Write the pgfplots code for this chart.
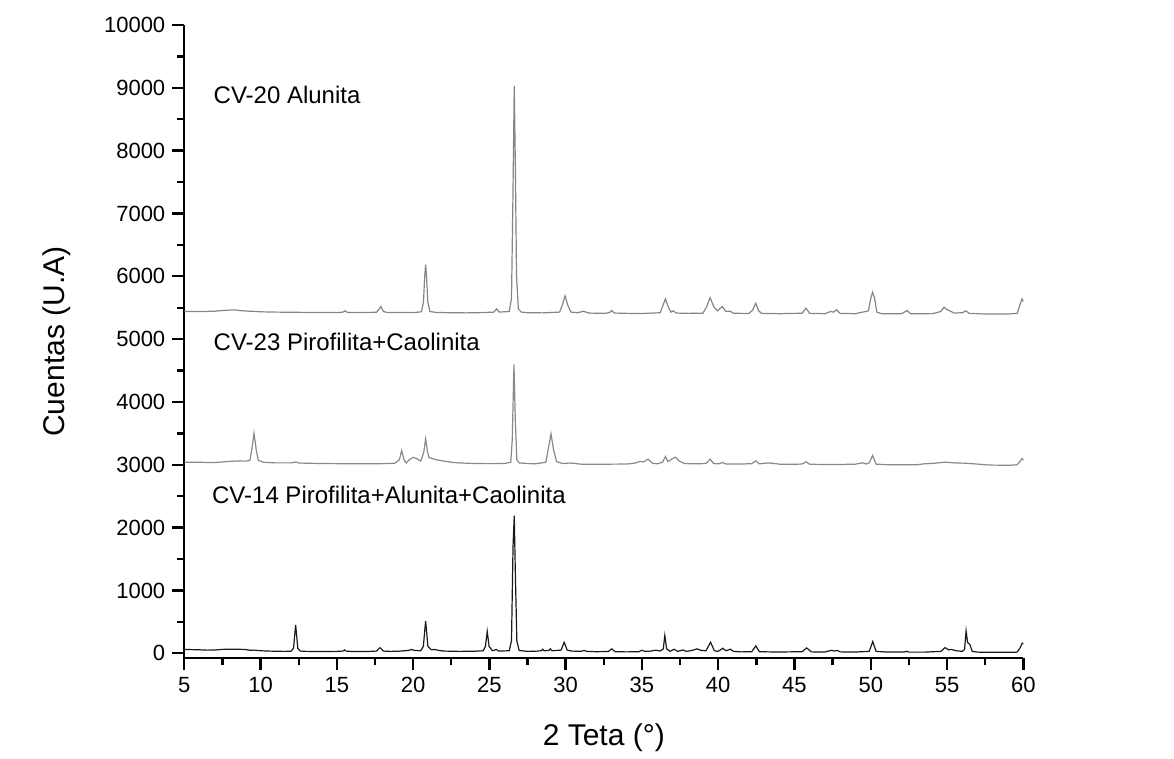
\documentclass[border=0pt]{standalone}
\usepackage{fontspec}
\setmainfont{Liberation Sans}
\usepackage{pgfplots}
\pgfplotsset{compat=1.18}
\definecolor{topgray}{HTML}{858585}
\definecolor{midgray}{HTML}{898989}
\definecolor{botblack}{HTML}{1A1A1A}
\begin{document}
\begin{tikzpicture}
\begin{axis}[
  name=ax,
  scale only axis,
  width=419.5pt, height=316.65pt,
  xmin=5, xmax=60, ymin=-80, ymax=10000,
  axis lines*=left,
  axis line style={line width=1.2pt},
  every tick/.style={line width=1.2pt, black},
  tick align=outside,
  major tick length=6pt, minor tick length=3.5pt,
  xtick={5,10,...,60}, minor x tick num=1,
  ytick={0,1000,...,10000}, minor y tick num=1,
  scaled y ticks=false,
  /pgf/number format/assume math mode=true,
  /pgf/number format/1000 sep={},
  ticklabel style={font=\fontsize{11}{13}\selectfont},
  xlabel={2 Teta (°)}, ylabel={Cuentas (U.A)},
  label style={font=\fontsize{15}{17}\selectfont},
  x label style={at={(axis description cs:0.5,-0.126)},anchor=center},
  y label style={at={(axis description cs:-0.152,0.5)},anchor=center},
  clip=false,
]
% CV-20 Alunita
\addplot[color=topgray, line width=0.6pt] coordinates {
(5,5440) (6,5438) (7,5445) (7.5,5455) (8.0,5462) (8.3,5466) (8.6,5455) (9,5448) (9.5,5442) (10,5435) (11,5430) (12,5428) (13,5425) (14,5425) (15,5422) (15.4,5430) (15.53,5450) (15.7,5425) (16.5,5422) (17.6,5428) (17.75,5470) (17.89,5519) (18.05,5440) (18.3,5425) (19,5425) (20,5422) (20.55,5435) (20.68,5600) (20.76,6000) (20.82,6185) (20.88,6000) (20.96,5600) (21.1,5440) (21.5,5425) (22.5,5420) (23.5,5418) (24.5,5422) (25.3,5430) (25.47,5482) (25.65,5430) (26.3,5440) (26.45,5650) (26.54,7200) (26.63,9030) (26.7,7800) (26.78,6000) (26.9,5480) (27.1,5430) (27.5,5420) (28.5,5418) (29.6,5430) (29.78,5540) (29.96,5688) (30.14,5540) (30.35,5430) (30.8,5420) (31.16,5445) (31.5,5415) (32.5,5410) (32.85,5420) (33.02,5455) (33.2,5415) (34,5410) (35,5408) (36.2,5420) (36.38,5540) (36.54,5640) (36.7,5530) (36.9,5430) (37.05,5450) (37.25,5415) (38,5410) (39,5412) (39.25,5520) (39.47,5661) (39.7,5520) (39.95,5450) (40.27,5519) (40.5,5440) (40.78,5445) (41.0,5412) (42,5408) (42.25,5460) (42.46,5571) (42.65,5450) (42.85,5410) (44,5405) (45.5,5412) (45.75,5492) (46.0,5410) (47,5405) (47.37,5440) (47.55,5430) (47.76,5466) (48,5408) (49,5405) (49.85,5450) (50.0,5650) (50.12,5746) (50.25,5650) (50.4,5430) (50.7,5405) (52,5405) (52.4,5455) (52.6,5405) (54,5402) (54.6,5440) (54.8,5508) (55.0,5470) (55.2,5450) (55.45,5415) (56.0,5420) (56.24,5450) (56.45,5410) (57.5,5400) (59,5400) (59.6,5410) (59.8,5560) (59.92,5640) (60,5600)
};
% CV-23 Pirofilita+Caolinita
\addplot[color=midgray, line width=0.6pt] coordinates {
(5,3042) (6,3040) (7,3035) (7.5,3045) (8,3055) (8.5,3060) (9,3058) (9.3,3070) (9.43,3250) (9.57,3503) (9.71,3250) (9.85,3070) (10.2,3040) (11,3030) (12,3030) (12.32,3045) (12.5,3028) (13,3025) (14,3020) (15,3018) (16,3015) (17,3015) (18,3018) (18.8,3025) (19.1,3080) (19.25,3228) (19.4,3080) (19.55,3030) (19.75,3080) (20.0,3120) (20.25,3095) (20.5,3060) (20.7,3200) (20.82,3413) (20.95,3200) (21.05,3110) (21.2,3105) (21.5,3080) (22,3060) (22.5,3040) (23,3030) (24,3020) (25,3018) (26,3020) (26.4,3040) (26.5,3400) (26.61,4598) (26.7,3700) (26.8,3080) (26.95,3030) (27.5,3020) (28,3015) (28.7,3040) (28.86,3250) (29.04,3492) (29.2,3250) (29.4,3050) (29.8,3020) (30.3,3028) (31,3010) (32,3008) (33,3010) (34,3012) (34.5,3025) (34.88,3053) (35.1,3045) (35.4,3090) (35.7,3025) (36,3015) (36.35,3040) (36.54,3132) (36.7,3050) (36.95,3090) (37.2,3122) (37.45,3060) (37.8,3020) (38.5,3015) (39.2,3020) (39.47,3090) (39.7,3020) (40.05,3015) (40.3,3037) (40.5,3012) (41.5,3012) (42.2,3018) (42.46,3063) (42.7,3015) (43.3,3030) (43.7,3020) (44,3010) (45,3008) (45.5,3012) (45.75,3048) (46.0,3008) (47,3005) (48,3005) (49,3010) (49.47,3032) (49.7,3012) (49.9,3030) (50.12,3148) (50.35,3010) (51,3002) (52,3000) (53,3000) (53.5,3015) (54.2,3025) (54.86,3042) (55.5,3030) (56.2,3025) (56.8,3015) (57.5,3000) (58,2995) (59,2992) (59.6,3000) (59.8,3060) (59.92,3100) (60,3070)
};
% CV-14 Pirofilita+Alunita+Caolinita
\addplot[color=botblack, line width=0.6pt] coordinates {
(5,62) (5.5,58) (6,55) (6.5,50) (7,52) (7.5,62) (8,65) (8.5,64) (9,60) (9.3,48) (9.6,50) (10,40) (10.5,35) (11,32) (11.5,30) (12,32) (12.16,80) (12.3,452) (12.44,80) (12.6,35) (13,30) (14,28) (15,30) (15.4,35) (15.5,53) (15.6,35) (16,28) (17,28) (17.6,35) (17.83,90) (18.05,35) (18.5,30) (19,32) (19.7,45) (19.9,60) (20.1,45) (20.5,40) (20.67,110) (20.82,516) (20.97,110) (21.2,55) (21.4,60) (21.7,45) (22,35) (23,30) (24,32) (24.6,40) (24.74,110) (24.86,346) (24.98,110) (25.2,40) (25.45,60) (25.6,35) (26.3,40) (26.45,200) (26.55,1700) (26.63,2191) (26.7,1300) (26.8,200) (26.95,45) (27.5,30) (28,32) (28.4,40) (28.5,65) (28.6,40) (28.9,45) (29.0,70) (29.1,40) (29.7,50) (29.9,175) (30.1,50) (30.4,35) (31,30) (31.2,45) (31.4,30) (32,25) (32.8,28) (33.02,70) (33.25,25) (34,22) (34.8,25) (35.0,48) (35.2,30) (35.6,35) (35.9,50) (36.2,35) (36.4,70) (36.5,282) (36.62,70) (36.85,30) (37.1,64) (37.35,30) (37.7,53) (37.9,30) (38.3,45) (38.6,70) (38.9,45) (39.2,40) (39.5,175) (39.75,40) (40.0,30) (40.3,80) (40.5,40) (40.8,64) (41.0,30) (41.5,22) (42.2,25) (42.46,117) (42.7,25) (43.3,22) (44,20) (45.5,25) (45.8,85) (46.1,22) (47,20) (47.45,48) (47.6,35) (47.8,45) (48.0,22) (49,20) (49.9,30) (50.13,186) (50.35,30) (51,20) (52.2,20) (52.35,32) (52.5,18) (53.5,18) (54.6,30) (54.87,90) (55.1,55) (55.3,60) (55.6,40) (56.0,30) (56.15,60) (56.25,356) (56.35,170) (56.5,140) (56.65,30) (57,18) (58,15) (59,15) (59.6,18) (59.8,90) (59.93,160) (60,150)
};
\node[anchor=west, font=\fontsize{12}{14}\selectfont, inner sep=0pt] at (axis cs:6.9,8886) {CV-20 Alunita};
\node[anchor=west, font=\fontsize{12}{14}\selectfont, inner sep=0pt] at (axis cs:6.9,4960) {CV-23 Pirofilita+Caolinita};
\node[anchor=west, font=\fontsize{12}{14}\selectfont, inner sep=0pt] at (axis cs:6.8,2520) {CV-14 Pirofilita+Alunita+Caolinita};
\end{axis}
\path ([shift={(-92.15pt,-48.35pt)}]ax.south west) rectangle ([shift={(494.85pt,329.15pt)}]ax.south west);
\end{tikzpicture}
\end{document}
